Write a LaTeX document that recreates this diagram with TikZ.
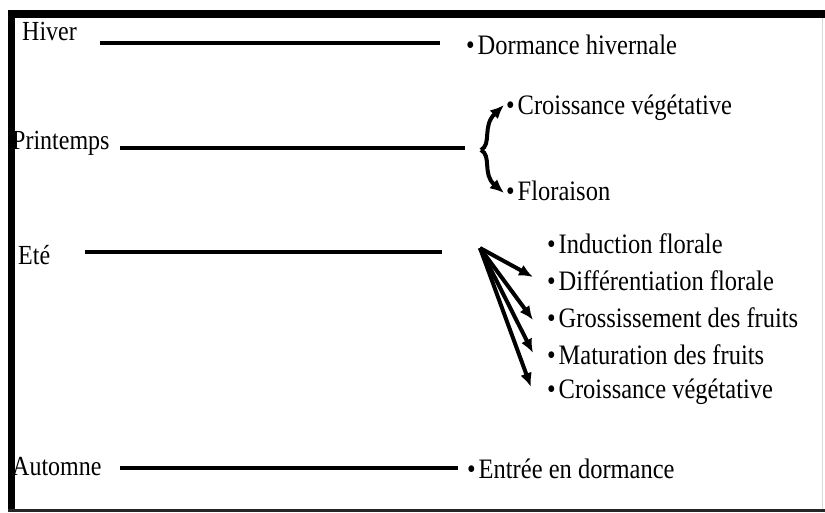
\documentclass[tikz,border=0pt]{standalone}
\usepackage{fontspec}
\setmainfont{Liberation Serif}
\usetikzlibrary{arrows.meta}
\newcommand{\tall}[1]{\scalebox{1}[1.15]{#1}}
\begin{document}
\begin{tikzpicture}[x=1pt,y=-1pt,
  lbl/.style={anchor=west,inner sep=0pt,font=\fontsize{24}{27}\selectfont},
  itm/.style={anchor=west,inner sep=0pt,font=\fontsize{24.5}{28}\selectfont},
  seg/.style={line width=3.5pt},
  arr/.style={line width=4pt,-{Latex[length=14pt,width=12pt]}}]
\useasboundingbox (0,0) rectangle (825,512);
% frame
\fill[black] (8,10) rectangle (825,18);
\fill[black] (8,10) rectangle (15,512);
\fill[black!85] (8,509) rectangle (825,512);
\draw[black!15,line width=1pt] (822,18) -- (822,509);
% Hiver
\node[lbl] (hiver) at (22,31) {\tall{Hiver}};
\coordinate (h1) at (100,43);
\coordinate (h2) at (440,43);
\draw[seg] (h1) -- (h2);
\node[itm] (dorm) at (466,45) {\tall{•\hspace{0.12em}Dormance hivernale}};
% Printemps
\node[lbl] (print) at (12,143) {\tall{Printemps}};
\coordinate (p1) at (120,148);
\coordinate (p2) at (465,148);
\draw[seg] (p1) -- (p2);
\node[itm] (croi1) at (506,108) {\tall{•\hspace{0.12em}Croissance végétative}};
\node[itm] (flor) at (506,191) {\tall{•\hspace{0.12em}Floraison}};
\coordinate (pm) at (481,150);
\draw[arr] (pm) .. controls (492,144) and (482,126) .. ([xshift=-2pt,yshift=3pt]croi1.west);
\draw[arr] (pm) .. controls (492,156) and (482,174) .. ([xshift=-2pt,yshift=-2pt]flor.west);
% Ete
\node[lbl] (ete) at (18,255) {\tall{Eté}};
\coordinate (e1) at (85,252);
\coordinate (e2) at (442,252);
\draw[seg] (e1) -- (e2);
\node[itm] (ind) at (547,244) {\tall{•\hspace{0.12em}Induction florale}};
\node[itm] (dif) at (547,281) {\tall{•\hspace{0.12em}Différentiation florale}};
\node[itm] (gro) at (547,318) {\tall{•\hspace{0.12em}Grossissement des fruits}};
\node[itm] (mat) at (547,355) {\tall{•\hspace{0.12em}Maturation des fruits}};
\node[itm] (cro2) at (547,392) {\tall{•\hspace{0.12em}Croissance végétative}};
\coordinate (em) at (480,248);
\draw[arr] (em) -- ([xshift=-14pt,yshift=4pt]dif.west);
\draw[arr] (em) -- ([xshift=-14pt,yshift=-2pt]gro.west);
\draw[arr] (em) -- ([xshift=-14pt,yshift=2pt]mat.west);
\draw[arr] (em) -- ([xshift=-16pt,yshift=5pt]cro2.west);
% Automne
\node[lbl] (aut) at (12,467) {\tall{Automne}};
\coordinate (a1) at (120,468);
\coordinate (a2) at (458,468);
\draw[seg] (a1) -- (a2);
\node[itm] (entr) at (467,469) {\tall{•\hspace{0.12em}Entrée en dormance}};
\end{tikzpicture}
\end{document}
